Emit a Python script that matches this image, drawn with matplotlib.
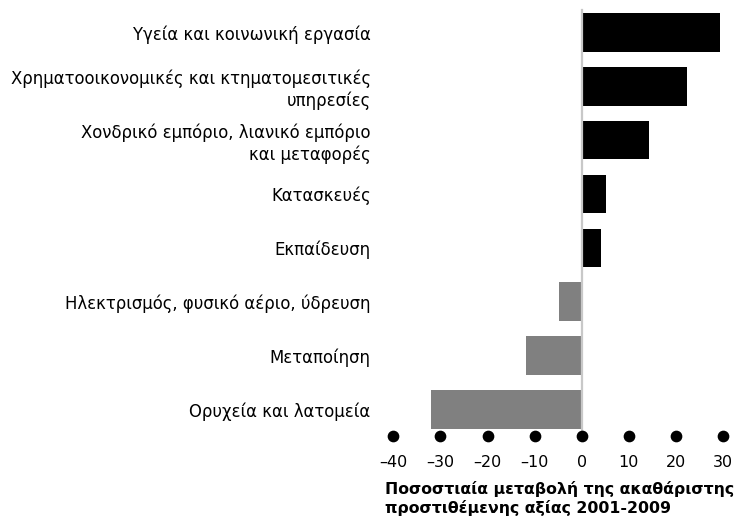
import matplotlib
matplotlib.use("Agg")
import matplotlib.pyplot as plt

plt.rcParams['font.family'] = ['DejaVu Sans']

categories = [
    "Υγεία και κοινωνική εργασία",
    "Χρηματοοικονομικές και κτηματομεσιτικές\nυπηρεσίες",
    "Χονδρικό εμπόριο, λιανικό εμπόριο\nκαι μεταφορές",
    "Κατασκευές",
    "Εκπαίδευση",
    "Ηλεκτρισμός, φυσικό αέριο, ύδρευση",
    "Μεταποίηση",
    "Ορυχεία και λατομεία",
]
values = [29.4, 22.3, 14.2, 5.2, 4.0, -4.8, -11.8, -32.0]
xticks = [-40, -30, -20, -10, 0, 10, 20, 30]
xtick_labels = ["–40", "–30", "–20", "–10", "0", "10", "20", "30"]
xlabel = "Ποσοστιαία μεταβολή της ακαθάριστης\nπροστιθέμενης αξίας 2001-2009"

W, H = 735, 522
fig = plt.figure(figsize=(W / 100, H / 100), dpi=100)

x0 = 581.7
ppu = 4.71
xmin, xmax = -42, 32
left_px = x0 + xmin * ppu
right_px = x0 + xmax * ppu
yc0 = 32.5
ppy = 53.83
ymin_d, ymax_d = -0.45, 7.6
top_px = yc0 + ymin_d * ppy
bot_px = yc0 + ymax_d * ppy

ax = fig.add_axes([left_px / W, 1 - bot_px / H, (right_px - left_px) / W, (bot_px - top_px) / H])

ypos = list(range(len(categories)))
colors = ['#000000' if v >= 0 else '#808080' for v in values]
ax.barh(ypos, values, height=0.715, color=colors, zorder=2)
ax.plot([0, 0], [-0.42, 7.5], color='#c8c8c8', lw=1.6, zorder=3)
ax.scatter(xticks, [7.5] * len(xticks), s=55, color='black', zorder=4, clip_on=False)

ax.set_xlim(xmin, xmax)
ax.set_ylim(ymax_d, ymin_d)
ax.set_yticks(ypos)
ax.set_yticklabels(categories, fontsize=11.9, linespacing=1.2)
ax.set_xticks(xticks)
ax.set_xticklabels(xtick_labels, fontsize=11.5)
ax.tick_params(axis='y', length=0, pad=9.5)
ax.tick_params(axis='x', length=0, pad=9.5)
for s in ax.spines.values():
    s.set_visible(False)

ax.set_xlabel(xlabel, fontsize=11.3, fontweight='bold', ha='left', linespacing=1.25)
ax.xaxis.set_label_coords((385 - left_px) / (right_px - left_px), -0.09)
ax.xaxis.label.set_va('top')

fig.savefig("out.png", dpi=100)
